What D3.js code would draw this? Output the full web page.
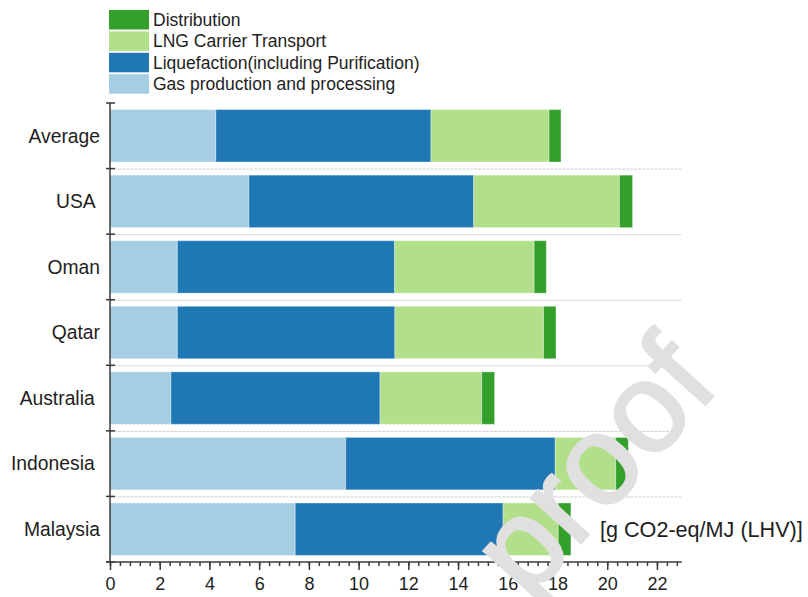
<!DOCTYPE html>
<html>
<head>
<meta charset="utf-8">
<script src="https://cdn.jsdelivr.net/npm/d3@7"></script>
<style>
  body { margin: 0; background: #fff; }
  svg { display: block; font-family: "Liberation Sans", Arial, sans-serif; }
  .cat-label { white-space: pre; }
</style>
</head>
<body>
<div id="chart"></div>
<script>
/* LNG supply chain GHG emissions, stacked horizontal bars */

var categories = ['Average', 'USA', 'Oman', 'Qatar', 'Australia', 'Indonesia', 'Malaysia'];
// some of the original labels carry a trailing space
var categoryLabels = ['Average', 'USA ', 'Oman', 'Qatar', 'Australia ', 'Indonesia ', 'Malaysia'];

var gasProduction    = [4.26, 5.59, 2.71, 2.71, 2.45, 9.48, 7.45];
var liquefaction     = [8.65, 9.04, 8.74, 8.75, 8.41, 8.43, 8.36];
var carrierTransport = [4.75, 5.86, 5.61, 5.98, 4.09, 2.43, 2.22];
var distribution     = [0.48, 0.53, 0.49, 0.50, 0.52, 0.51, 0.51];

var seriesKeys   = ['gas', 'liq', 'lng', 'dist'];
var seriesNames  = ['Gas production and processing', 'Liquefaction(including Purification)',
                    'LNG Carrier Transport', 'Distribution'];
var seriesColors = ['#a6cee3', '#1f78b4', '#b2df8a', '#33a02c'];

var xMajorTicks = [0, 2, 4, 6, 8, 10, 12, 14, 16, 18, 20, 22];
var xMinorTicks = d3.range(0, 23, 0.4);
var unitLabel = '[g CO2-eq/MJ (LHV)]';

(function drawChart() {
  'use strict';

  var width = 808, height = 597;
  var left = 110, right = 681.8, top = 103, bottom = 562;
  var textColor = '#1e1e1e', axisColor = '#3a3a3a';

  var rows = categories.map(function (c, i) {
    return { cat: c, gas: gasProduction[i], liq: liquefaction[i],
             lng: carrierTransport[i], dist: distribution[i] };
  });

  var stack = d3.stack().keys(seriesKeys)(rows);

  var x = d3.scaleLinear().domain([0, 23]).range([left, right]);
  var y = d3.scaleBand().domain(categories).range([top, bottom])
      .paddingInner(0.2).paddingOuter(0.1);
  var color = d3.scaleOrdinal().domain(seriesKeys).range(seriesColors);

  var svg = d3.select('#chart').append('svg')
      .attr('width', width)
      .attr('height', height);

  // dotted separators between bars
  var boundaries = categories.map(function (c) { return y(c) - y.step() * y.paddingOuter(); });
  boundaries.push(bottom);

  svg.append('g')
    .selectAll('line')
    .data(boundaries.slice(1, -1))
    .join('line')
      .attr('x1', left)
      .attr('x2', right)
      .attr('y1', function (d) { return d + 0.5; })
      .attr('y2', function (d) { return d + 0.5; })
      .attr('stroke', '#cdcdcd')
      .attr('stroke-dasharray', '3,1')
      .attr('stroke-width', 1);

  // bars
  svg.append('g')
    .selectAll('g')
    .data(stack)
    .join('g')
      .attr('fill', function (d) { return color(d.key); })
    .selectAll('rect')
    .data(function (d) { return d; })
    .join('rect')
      .attr('x', function (d) { return x(d[0]); })
      .attr('y', function (d) { return y(d.data.cat); })
      .attr('width', function (d) { return x(d[1]) - x(d[0]); })
      .attr('height', y.bandwidth())
      .attr('stroke', '#fff')
      .attr('stroke-opacity', 0.35)
      .attr('stroke-width', 1);

  // x axis: major + minor ticks
  var xAxisG = svg.append('g').attr('transform', 'translate(0,' + bottom + ')');
  xAxisG.append('g')
      .call(d3.axisBottom(x).tickValues(xMinorTicks).tickSize(4).tickFormat(''))
      .call(function (g) { g.select('.domain').remove(); });
  xAxisG.append('g')
      .call(d3.axisBottom(x).tickValues(xMajorTicks).tickSize(8).tickPadding(7)
        .tickFormat(d3.format('d')))
      .call(function (g) {
        g.select('.domain').attr('d', 'M' + (left - 4) + ',0H' + right);
        g.selectAll('text').attr('font-size', '18px').attr('fill', textColor)
          .attr('font-family', '"Liberation Sans", Arial, sans-serif');
      });
  xAxisG.selectAll('line, path')
      .attr('stroke', axisColor)
      .attr('stroke-width', 1.5);

  // y axis: line, boundary ticks, category labels
  var yAxisG = svg.append('g');
  yAxisG.append('line')
      .attr('x1', left).attr('x2', left)
      .attr('y1', top).attr('y2', bottom)
      .attr('stroke', axisColor)
      .attr('stroke-width', 1.5);
  yAxisG.selectAll('line.tick')
    .data(boundaries)
    .join('line')
      .attr('class', 'tick')
      .attr('x1', left - 4).attr('x2', left + 5)
      .attr('y1', function (d) { return d; })
      .attr('y2', function (d) { return d; })
      .attr('stroke', axisColor)
      .attr('stroke-width', 1.5);
  yAxisG.selectAll('text')
    .data(categories)
    .join('text')
      .attr('class', 'cat-label')
      .attr('x', left - 10)
      .attr('y', function (d) { return y(d) + y.bandwidth() / 2; })
      .attr('dy', '0.35em')
      .attr('text-anchor', 'end')
      .attr('font-size', '19.3px')
      .attr('fill', textColor)
      .text(function (d, i) { return categoryLabels[i]; });

  // legend, stacked top-down in reverse series order
  var legend = svg.append('g').attr('transform', 'translate(109,10)');
  var legendItems = legend.selectAll('g')
    .data(seriesKeys.slice().reverse())
    .join('g')
      .attr('transform', function (d, i) { return 'translate(0,' + (i * 21.4) + ')'; });
  legendItems.append('rect')
      .attr('width', 40)
      .attr('height', 19.5)
      .attr('fill', function (d) { return color(d); });
  legendItems.append('text')
      .attr('x', 44)
      .attr('y', 9.75)
      .attr('dy', '0.35em')
      .attr('font-size', '17.5px')
      .attr('fill', textColor)
      .text(function (d) { return seriesNames[seriesKeys.indexOf(d)]; });

  // unit label
  svg.append('text')
      .attr('x', 600)
      .attr('y', 537)
      .attr('font-size', '21.6px')
      .attr('fill', textColor)
      .text(unitLabel);

  // watermark from the source pdf, drawn over everything
  svg.append('text')
      .attr('transform', 'translate(528,602) rotate(-48)')
      .attr('font-size', '127px')
      .attr('fill', '#e0e0e0')
      .attr('stroke', '#e0e0e0')
      .attr('stroke-width', 2.5)
      .text('proof');
})();
</script>
</body>
</html>
